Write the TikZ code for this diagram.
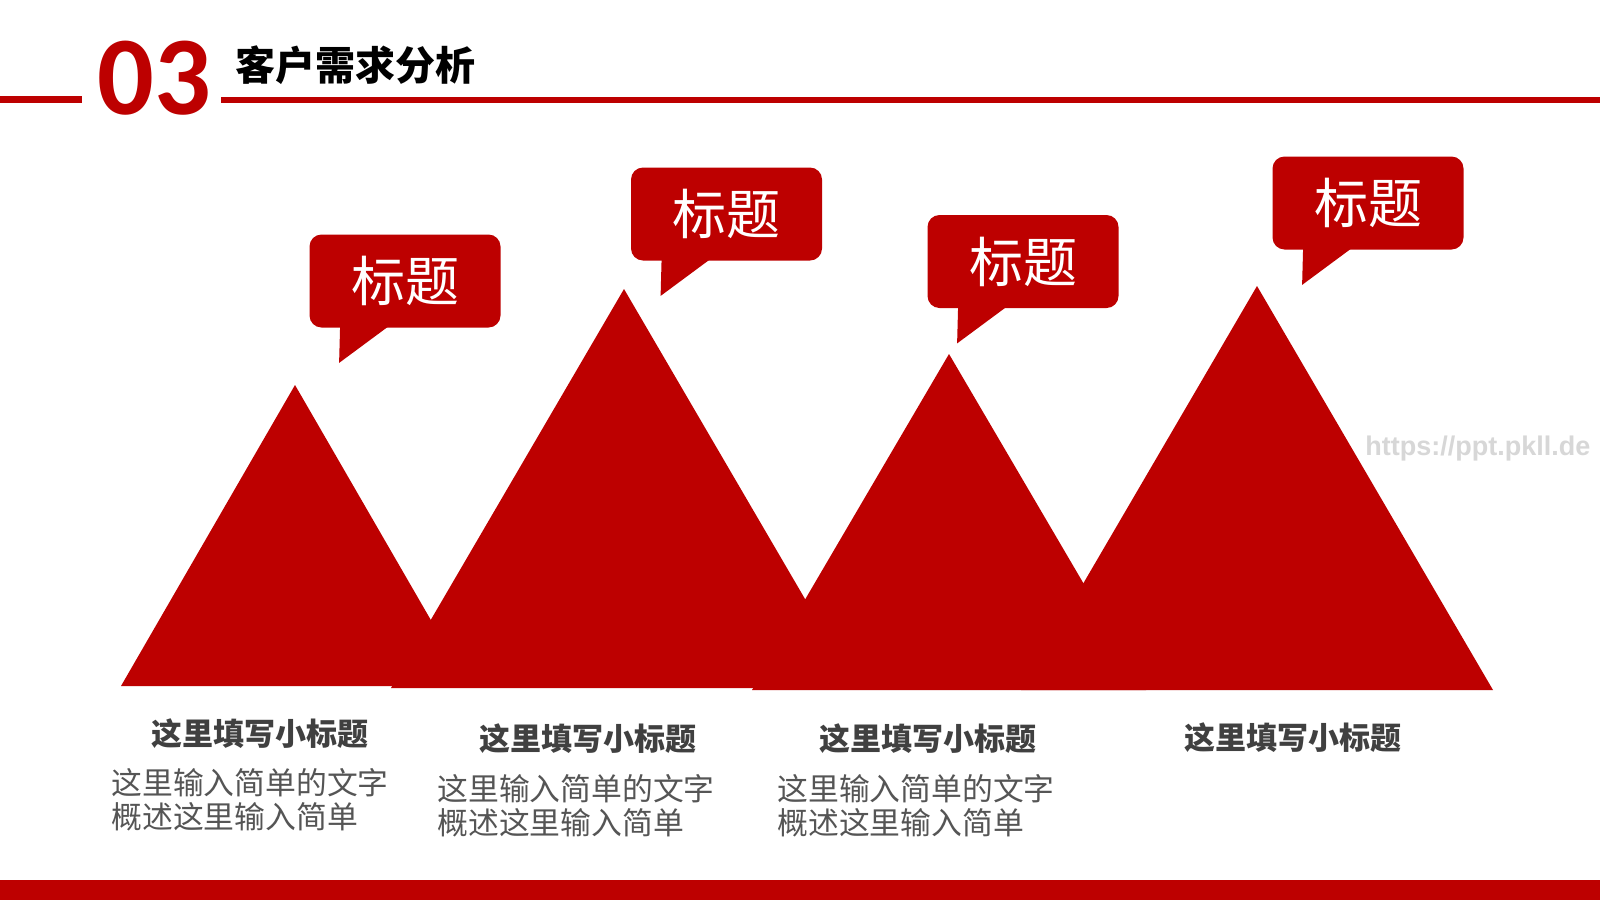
\documentclass[tikz,border=0pt]{standalone}
\usepackage{fontspec}
\usetikzlibrary{calc}
\newfontfamily\cjk{Noto Sans CJK SC}
\newfontfamily\calfont{Carlito}
\newfontfamily\wmfont{Liberation Sans}
\definecolor{pptred}{RGB}{189,0,0}
\definecolor{subgray}{RGB}{64,64,64}
\definecolor{bodygray}{RGB}{85,85,85}
\definecolor{wmgray}{RGB}{215,215,215}
\tikzset{
  mount/.style={fill=pptred, draw=none},
  bubble/.style={fill=pptred, draw=none, rounded corners=6pt, minimum width=95.5pt, minimum height=46.5pt, inner sep=0pt, text=white, font=\cjk\fontsize{27pt}{30pt}\selectfont},
  subtitle/.style={inner sep=0pt, text=subgray, font=\cjk\bfseries\fontsize{15.5pt}{18pt}\selectfont},
  bodytext/.style={inner sep=0pt, anchor=west, align=left, text=bodygray, font=\cjk\fontsize{15.4pt}{17pt}\selectfont},
}
\begin{document}
\begin{tikzpicture}[x=0.5pt, y=-0.5pt]
\path[use as bounding box, fill=white] (0,0) rectangle (1600,900);
% header
\coordinate (hl1) at (0,99.5);
\coordinate (hl2) at (82,99.5);
\coordinate (hr1) at (221,100);
\coordinate (hr2) at (1600,100);
\draw[pptred, line width=3.5pt] (hl1) -- (hl2);
\draw[pptred, line width=3pt] (hr1) -- (hr2);
\node[anchor=base west, inner sep=0pt, text=pptred, font=\calfont\bfseries\fontsize{56pt}{56pt}\selectfont] (num) at (97,114) {03};
\node[anchor=west, inner sep=0pt, text=black, font=\cjk\bfseries\fontsize{20pt}{22pt}\selectfont] (title) at (235,65.5) {客户需求分析};
% bottom bar
\fill[pptred] (0,880) rectangle (1600,900);
% mountains
\fill[mount] (295,385) -- (469,686) -- (121,686) -- cycle;
\fill[mount] (624,289) -- (857,688) -- (391,688) -- cycle;
\fill[mount] (949,354) -- (1146,690) -- (752,690) -- cycle;
\fill[mount] (1257,286) -- (1493,690) -- (1021,690) -- cycle;
% watermark
\node[anchor=base west, inner sep=0pt, text=wmgray, font=\wmfont\bfseries\fontsize{13.5pt}{15pt}\selectfont] (wm) at (1365,455) {https://ppt.pkll.de};
% callouts
\foreach \n/\cx/\cy in {c1/405/281, c2/726.5/214, c3/1023/261.5, c4/1368/203}{
  \node[bubble] (\n) at (\cx,\cy) {标题};
  \fill[pptred] ($(\n.south west)+(31,-2)$) -- ($(\n.south west)+(30,35)$) -- ($(\n.south west)+(80,-2)$) -- cycle;
}
% subtitles
\node[subtitle] (s1) at (260,734) {这里填写小标题};
\node[subtitle] (s2) at (588,739) {这里填写小标题};
\node[subtitle] (s3) at (928,739) {这里填写小标题};
\node[subtitle] (s4) at (1293,738) {这里填写小标题};
% body texts
\node[bodytext] (b1) at (111,800) {这里输入简单的文字\\概述这里输入简单};
\node[bodytext] (b2) at (437,805.5) {这里输入简单的文字\\概述这里输入简单};
\node[bodytext] (b3) at (777,805.5) {这里输入简单的文字\\概述这里输入简单};
\end{tikzpicture}
\end{document}
